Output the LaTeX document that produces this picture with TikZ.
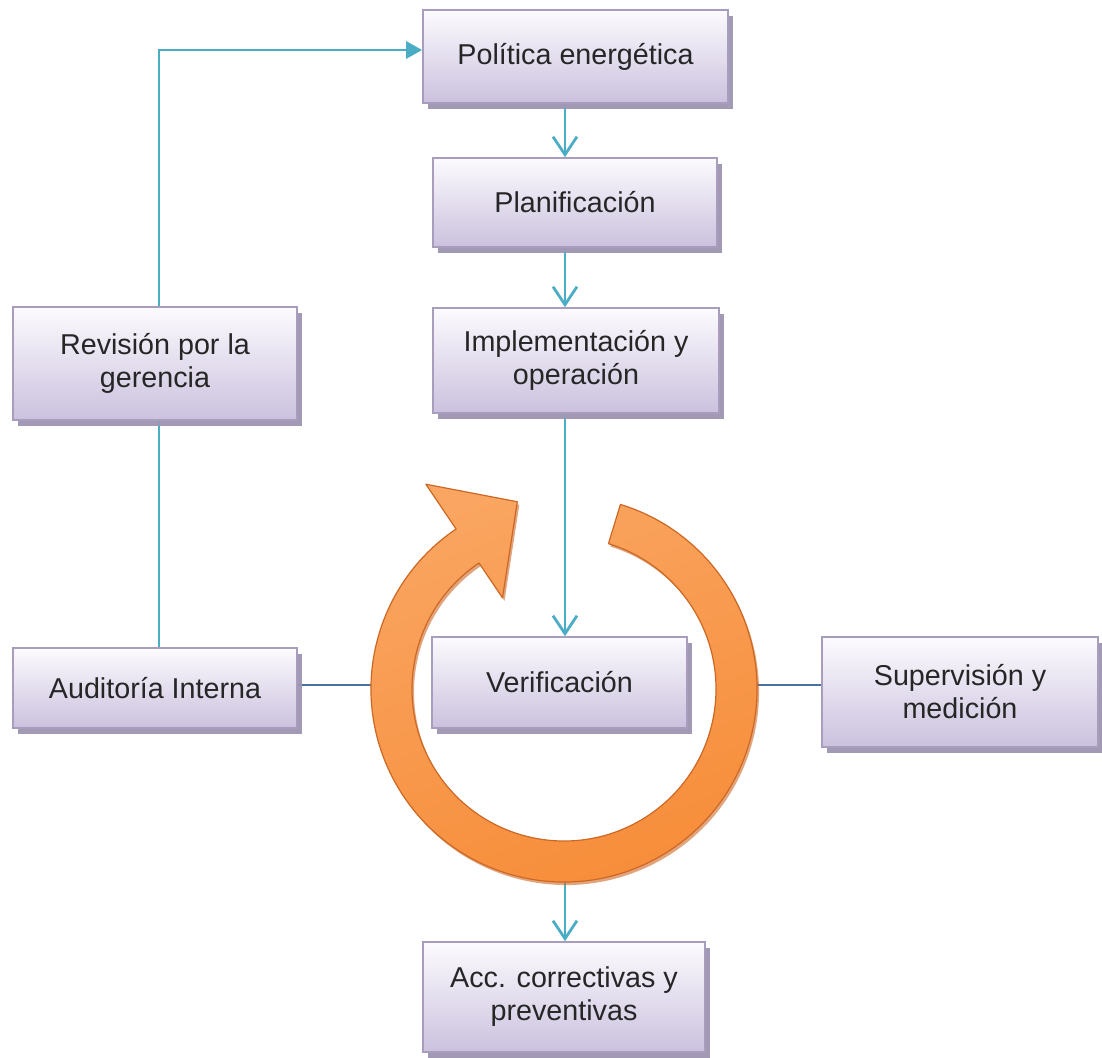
\documentclass[tikz,border=0pt]{standalone}
\usepackage{fontspec}
\setmainfont{Liberation Sans}
\usetikzlibrary{arrows.meta,shadows,calc}

\definecolor{linkteal}{RGB}{75,172,198}
\definecolor{linkblue}{RGB}{72,112,160}
\definecolor{boxtop}{RGB}{252,251,254}
\definecolor{boxbottom}{RGB}{203,193,222}
\definecolor{boxedge}{RGB}{168,157,188}
\definecolor{boxshadow}{RGB}{160,151,178}
\definecolor{ringlight}{RGB}{250,168,102}
\definecolor{ringdark}{RGB}{246,138,52}
\definecolor{ringedge}{RGB}{205,104,36}
\definecolor{labeltext}{RGB}{38,38,38}

\tikzset{
  stepbox/.style={
    draw=boxedge, line width=1.6pt,
    top color=boxtop, bottom color=boxbottom,
    drop shadow={shadow xshift=5pt, shadow yshift=-6pt, fill=boxshadow, opacity=0.85},
    text=labeltext, align=center, inner sep=0pt,
    font=\fontsize{28.7}{33}\selectfont
  },
  flowline/.style={draw=linkteal, line width=2.8pt},
  flowarrow/.style={flowline, -{Straight Barb[length=18pt,width=24pt,line width=2.8pt]}},
  sideline/.style={draw=linkblue, line width=2.2pt}
}

\begin{document}
\begin{tikzpicture}[x=1pt,y=-1pt]
  \useasboundingbox (0,0) rectangle (1102,1057);

  % guide columns for the connectors
  \coordinate (vx) at (565,0);
  \coordinate (lx) at (159,0);
  % ring anchor points
  \coordinate (ringC) at (564,689);
  \coordinate (ringW) at (371,685);
  \coordinate (ringE) at (757,685);
  \coordinate (ringS) at (565,882);

  % boxes (placed first so connectors can refer to them; redrawn on top)
  \node[stepbox, minimum width=305pt, minimum height=93pt]  (pol)  at (575.5,56.5) {Política energética};
  \node[stepbox, minimum width=284pt, minimum height=89pt]  (plan) at (575,202.5)  {Planificación};
  \node[stepbox, minimum width=286pt, minimum height=105pt] (impl) at (576,360.5)  {Implementación y\\operación};
  \node[stepbox, minimum width=284pt, minimum height=113pt] (rev)  at (155,363.5)  {Revisión por la\\gerencia};
  \node[stepbox, minimum width=284pt, minimum height=80pt]  (aud)  at (155,688)    {Auditoría Interna};
  \node[stepbox, minimum width=255pt, minimum height=91pt]  (ver)  at (559.5,682.5){Verificación};
  \node[stepbox, minimum width=276pt, minimum height=110pt] (sup)  at (960,692)    {Supervisión y\\medición};
  \node[stepbox, minimum width=282pt, minimum height=110pt] (acc)  at (564,997)    {Acc. correctivas y\\preventivas};

  % connectors
  \draw[flowline, -{Triangle[length=16pt,width=17pt]}]
    (rev.north -| lx) |- ([yshift=6.5pt]pol.west);
  \draw[flowline] (rev.south -| lx) -- (aud.north -| lx);
  \draw[flowarrow] (pol.south -| vx) -- (plan.north -| vx);
  \draw[flowarrow] (plan.south -| vx) -- (impl.north -| vx);
  \draw[flowarrow] (impl.south -| vx) -- (ver.north -| vx);
  \draw[flowarrow] (ringS) -- (acc.north -| vx);
  \draw[sideline] (aud.east |- ringW) -- (ringW);
  \draw[sideline] (sup.west |- ringE) -- (ringE);

  % circular arrow around the verification step
  \begin{scope}[shift={(ringC)}, yscale=-1]
    \def\ringpath{(73:193) arc[start angle=73, end angle=-236, radius=193]
      -- (-236:247) -- (104:193) -- (-236:110) -- (-236:152)
      arc[start angle=-236, end angle=73, radius=152] -- cycle}
    % soft shadow below and to the right
    \fill[ringedge, opacity=0.6, xshift=2pt, yshift=3pt] \ringpath;
    \begin{scope}
      \clip \ringpath;
      \shade[top color=ringlight, bottom color=ringdark, shading angle=20]
        (-260,-260) rectangle (260,260);
    \end{scope}
    \draw[ringedge, line width=1.2pt, line join=round] \ringpath;
  \end{scope}

  % boxes drawn again above the connectors
  \node[stepbox, minimum width=305pt, minimum height=93pt]  at (pol)  {Política energética};
  \node[stepbox, minimum width=284pt, minimum height=89pt]  at (plan) {Planificación};
  \node[stepbox, minimum width=286pt, minimum height=105pt] at (impl) {Implementación y\\operación};
  \node[stepbox, minimum width=284pt, minimum height=113pt] at (rev)  {Revisión por la\\gerencia};
  \node[stepbox, minimum width=284pt, minimum height=80pt]  at (aud)  {Auditoría Interna};
  \node[stepbox, minimum width=255pt, minimum height=91pt]  at (ver)  {Verificación};
  \node[stepbox, minimum width=276pt, minimum height=110pt] at (sup)  {Supervisión y\\medición};
  \node[stepbox, minimum width=282pt, minimum height=110pt] at (acc)  {Acc. correctivas y\\preventivas};
\end{tikzpicture}
\end{document}
